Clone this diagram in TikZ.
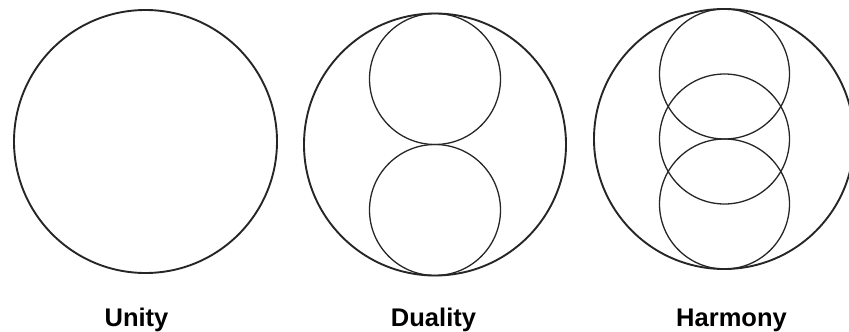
\documentclass[tikz,border=0pt]{standalone}
\usepackage{fontspec}
\setmainfont{Liberation Sans}
\begin{document}
\begin{tikzpicture}[x=1pt,y=-1pt,
  outer/.style={draw=black!85,line width=1.9pt,circle,inner sep=0pt,outer sep=0pt},
  inner/.style={draw=black!85,line width=1.3pt,circle,inner sep=0pt,outer sep=0pt},
  lbl/.style={anchor=base,inner sep=0pt,font=\fontsize{25.5}{30}\selectfont\bfseries}]
\useasboundingbox (0,0) rectangle (849,332);
\clip (0,0) rectangle (849,332);
% Unity
\node[outer,minimum size=263pt] (u) at (145.5,141.5) {};
% Duality
\node[outer,minimum size=262pt] (d) at (435,144.5) {};
\node[inner,minimum size=131pt] (d1) at (435,79) {};
\node[inner,minimum size=131pt] (d2) at (435,210) {};
% Harmony
\node[outer,minimum size=260pt] (h) at (724,139) {};
\node[inner,minimum size=130pt] (h1) at (724.5,74) {};
\node[inner,minimum size=130pt] (h2) at (724.5,139) {};
\node[inner,minimum size=130pt] (h3) at (724.5,204) {};
% labels
\node[lbl] (lu) at (136.5,326) {Unity};
\node[lbl] (ld) at (433.5,326) {Duality};
\node[lbl] (lh) at (731.5,326) {Harmony};
\end{tikzpicture}
\end{document}
